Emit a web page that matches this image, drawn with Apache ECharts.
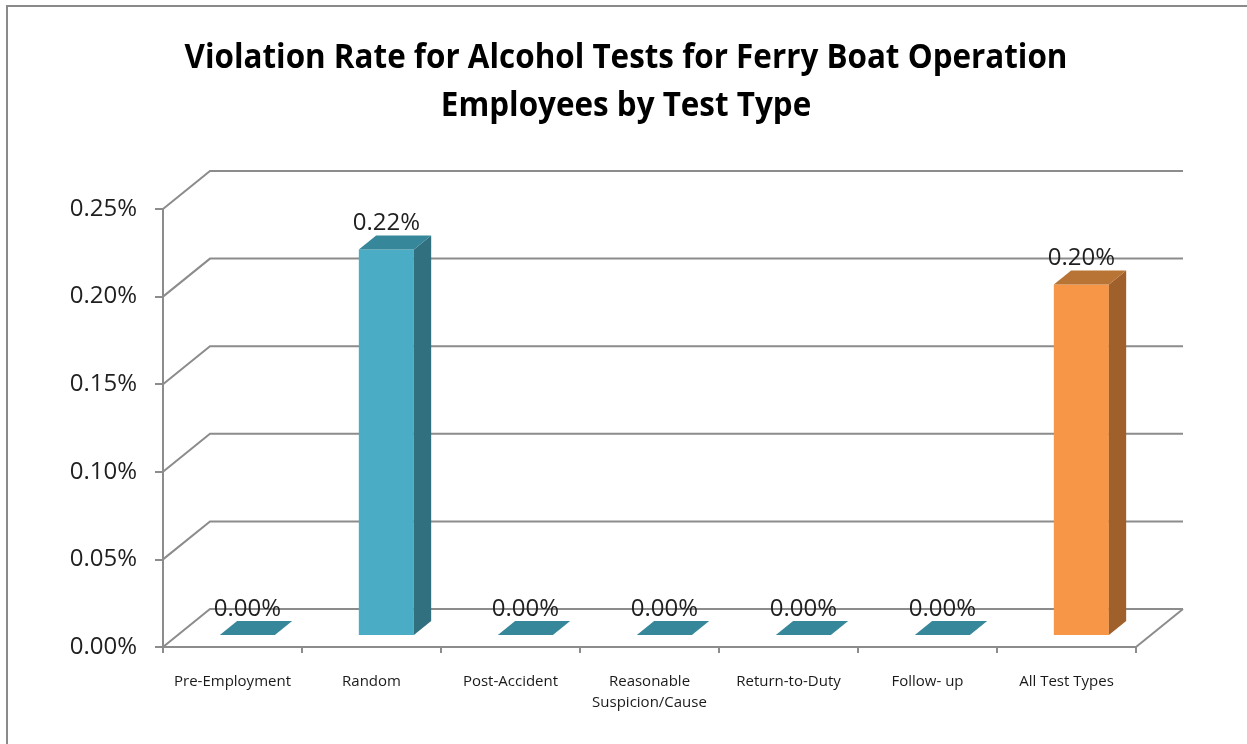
<!DOCTYPE html>
<html><head><meta charset="utf-8">
<script src="https://cdn.jsdelivr.net/npm/echarts@6/dist/echarts.min.js"></script>
<style>html,body{margin:0;padding:0;background:#fff}#c{width:1247px;height:744px}</style>
</head><body><div id="c"></div>
<script>
// ---- data ----
const categories = ['Pre-Employment', 'Random', 'Post-Accident', 'Reasonable\nSuspicion/Cause', 'Return-to-Duty', 'Follow- up', 'All Test Types'];
const rates = [0.00, 0.22, 0.00, 0.00, 0.00, 0.00, 0.20];   // percent
const yTicks = [0, 0.05, 0.10, 0.15, 0.20, 0.25];            // percent
const titleLines = ['Violation Rate for Alcohol Tests for Ferry Boat Operation', 'Employees by Test Type'];

// ---- styles / projection ----
const DX = 47, DY = -38;          // floor depth offset
const F1 = 0.316, F2 = 0.684;     // bar front/back depth fractions
const BAR_W = 0.396;              // fraction of band
const GRID_COLOR = '#8c8c8c';
const BLUE = { front: '#4bacc6', side: '#31717f', top: '#37879a' };
const ORANGE = { front: '#f79646', side: '#a0602b', top: '#b87435' };
const NUM_FONT = "'Open Sans', sans-serif";
const TITLE_FONT = "'Open Sans', sans-serif";
const TITLE_SIZE = 34;

function measure(text, font) {
  const ctx = document.createElement('canvas').getContext('2d');
  ctx.font = font;
  return ctx.measureText(text).width;
}
const titleFont = 'bold ' + TITLE_SIZE + 'px ' + TITLE_FONT;
const titleScale = 883 / measure(titleLines[0], titleFont);
const fmt = v => v.toFixed(2) + '%';

const chart = echarts.init(document.getElementById('c'), null, { renderer: 'canvas' });

function frameItem(params, api) {
  const v = api.value(1);
  const band = api.size([1, 0])[0];
  const p0 = api.coord([0, v]);
  const pN = api.coord([categories.length - 1, v]);
  const left = p0[0] - band / 2, right = pN[0] + band / 2, y = p0[1];
  const st = { stroke: GRID_COLOR, lineWidth: 2, fill: null };
  const ch = [
    { type: 'polyline', shape: { points: [[left, y], [left + DX, y + DY], [right + DX, y + DY]] }, style: st }
  ];
  if (v === 0) {
    ch.push({ type: 'line', shape: { x1: right, y1: y, x2: right + DX, y2: y + DY }, style: st });
  }
  return { type: 'group', children: ch };
}

function barItem(params, api) {
  const i = api.value(0), v = api.value(1);
  const band = api.size([1, 0])[0];
  const top = api.coord([i, v]);
  const base = api.coord([i, 0]);
  const col = categories[i] === 'All Test Types' ? ORANGE : BLUE;
  const w = band * BAR_W;
  const x0 = top[0] + F1 * DX - w / 2;
  const yt = top[1] + F1 * DY;
  const yb = base[1] + F1 * DY;
  const dx = (F2 - F1) * DX, dy = (F2 - F1) * DY;
  const ch = [];
  if (yb - yt > 0.5) {
    ch.push({ type: 'rect', shape: { x: x0, y: yt, width: w, height: yb - yt }, style: { fill: col.front } });
    ch.push({ type: 'polygon', shape: { points: [[x0 + w, yt], [x0 + w + dx, yt + dy], [x0 + w + dx, yb + dy], [x0 + w, yb]] }, style: { fill: col.side } });
  }
  ch.push({ type: 'polygon', shape: { points: [[x0, yt], [x0 + w, yt], [x0 + w + dx, yt + dy], [x0 + dx, yt + dy]] }, style: { fill: col.top } });
  ch.push({ type: 'text', x: x0 + w / 2, y: yt + dy - 12, style: { text: fmt(v), font: '24px ' + NUM_FONT, fill: '#1f1f1f', align: 'center', verticalAlign: 'middle' }, z2: 10 });
  return { type: 'group', children: ch };
}

chart.setOption({
  animation: false,
  backgroundColor: '#fff',
  grid: { left: 163, right: 111, top: 209, bottom: 97 },
  graphic: [
    { type: 'rect', shape: { x: 7, y: 6, width: 1400, height: 900 }, style: { fill: null, stroke: '#8a8a8a', lineWidth: 2 }, silent: true },
    { type: 'text', x: 626, y: 58, scaleX: titleScale, style: { text: titleLines[0], font: titleFont, fill: '#000', align: 'center', verticalAlign: 'middle' } },
    { type: 'text', x: 626, y: 106, scaleX: titleScale, style: { text: titleLines[1], font: titleFont, fill: '#000', align: 'center', verticalAlign: 'middle' } }
  ],
  xAxis: {
    type: 'category', data: categories,
    axisLine: { lineStyle: { color: GRID_COLOR, width: 2 } },
    axisTick: { show: true, length: 6, lineStyle: { color: GRID_COLOR, width: 2 } },
    axisLabel: { interval: 0, margin: 24, fontFamily: NUM_FONT, fontSize: 15, lineHeight: 21, color: '#1a1a1a' }
  },
  yAxis: {
    type: 'value', min: 0, max: 0.25, interval: 0.05,
    axisLine: { show: true, lineStyle: { color: GRID_COLOR, width: 2 } },
    axisTick: { show: true, length: 8, lineStyle: { color: GRID_COLOR, width: 2 } },
    splitLine: { show: false },
    axisLabel: { margin: 26, fontFamily: NUM_FONT, fontSize: 24, color: '#1f1f1f', formatter: v => fmt(v) }
  },
  series: [
    { type: 'custom', name: 'frame', renderItem: frameItem, clip: false, z: 1, silent: true,
      encode: { x: 0, y: 1 }, data: yTicks.map(v => [0, v]) },
    { type: 'custom', name: 'bars', renderItem: barItem, clip: false, z: 5,
      encode: { x: 0, y: 1 }, data: rates.map((v, i) => [i, v]) }
  ]
});
</script></body></html>
